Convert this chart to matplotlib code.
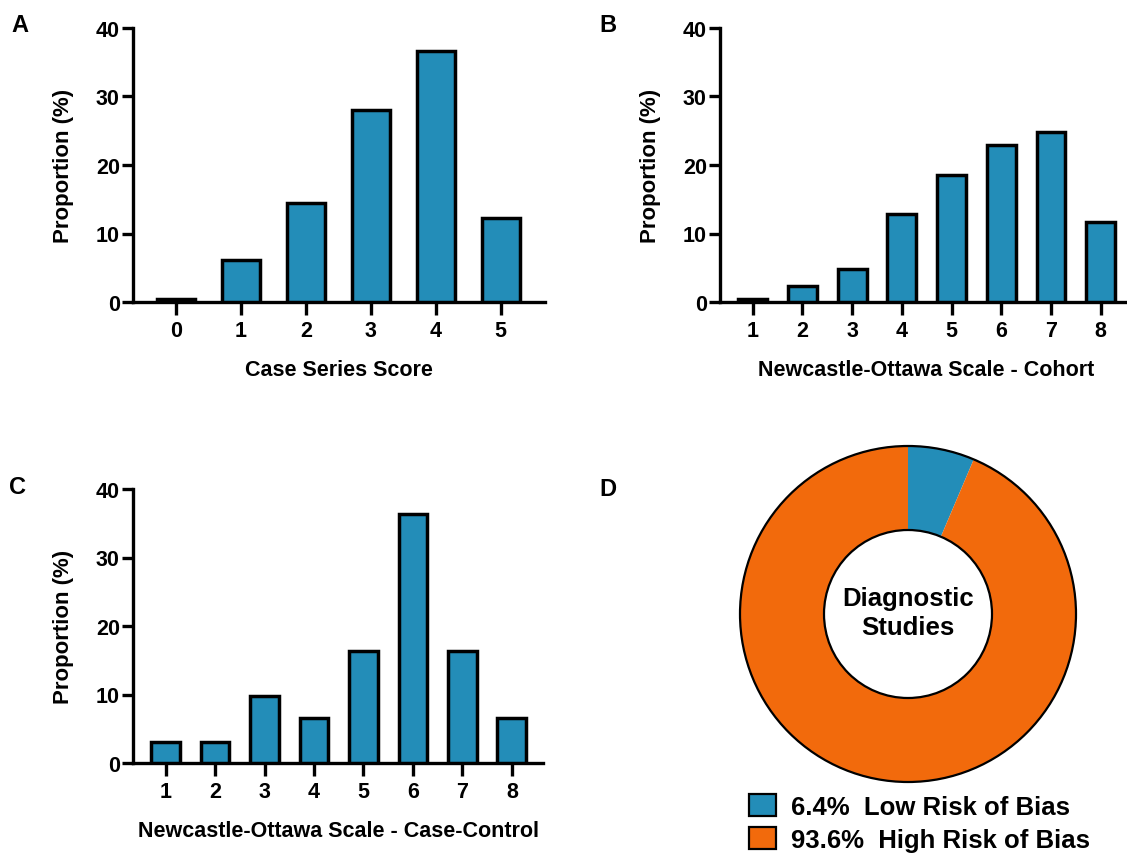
import numpy as np
import matplotlib
matplotlib.use('Agg')
import matplotlib.pyplot as plt
from matplotlib.patches import Patch, Circle

plt.rcParams['font.family'] = ['Liberation Sans', 'DejaVu Sans']
plt.rcParams['font.weight'] = 'bold'

# donnees
case_scores = [0, 1, 2, 3, 4, 5]
case_prop = [0.5, 6.2, 14.5, 28.1, 36.7, 12.3]

cohort_scores = [1, 2, 3, 4, 5, 6, 7, 8]
cohort_prop = [0.4, 2.3, 4.8, 12.9, 18.5, 22.9, 24.8, 11.7]

cc_scores = [1, 2, 3, 4, 5, 6, 7, 8]
cc_prop = [3.1, 3.1, 9.8, 6.5, 16.4, 36.4, 16.4, 6.5]

diag_labels = ['Low Risk of Bias', 'High Risk of Bias']
diag_prop = [6.4, 93.6]

blue = '#238DB8'
orange = '#F26A0C'

W, H = 1127, 854
fig = plt.figure(figsize=(W / 100, H / 100), dpi=100)


def px_axes(left, top, right, bottom):
    # rectangle en pixels -> fraction de figure
    return fig.add_axes([left / W, (H - bottom) / H, (right - left) / W, (bottom - top) / H])


def bar_panel(ax, x, y, xlim, xlabel):
    ax.bar(x, y, width=0.58, color=blue, edgecolor='black', linewidth=2.5, zorder=3)
    ax.set_xlim(*xlim)
    ax.set_ylim(0, 40)
    ax.set_yticks([0, 10, 20, 30, 40])
    ax.set_xticks(x)
    for s in ['top', 'right']:
        ax.spines[s].set_visible(False)
    for s in ['left', 'bottom']:
        ax.spines[s].set_linewidth(2.4)
    ax.tick_params(axis='y', length=8, width=2.4, pad=1.5, labelsize=15.5)
    ax.tick_params(axis='x', length=9, width=2.4, pad=4, labelsize=15.5)
    ax.set_ylabel('Proportion (%)', fontsize=16, fontweight='bold', labelpad=16)
    ax.set_xlabel(xlabel, fontsize=15.5, fontweight='bold', labelpad=13)


axA = px_axes(133, 29, 545, 303)
bar_panel(axA, case_scores, case_prop, (-0.66, 5.68), 'Case Series Score')

axB = px_axes(720, 29, 1132, 303)
bar_panel(axB, cohort_scores, cohort_prop, (0.34, 8.63), 'Newcastle-Ottawa Scale - Cohort')

axC = px_axes(133, 490, 543, 764)
bar_panel(axC, cc_scores, cc_prop, (0.34, 8.63), 'Newcastle-Ottawa Scale - Case-Control')

# D : anneau
axD = px_axes(738, 445, 1078, 785)
axD.pie(diag_prop, colors=[blue, orange], startangle=90, counterclock=False,
        radius=1, wedgeprops=dict(width=0.5, linewidth=0))
axD.add_patch(Circle((0, 0), 1, fill=False, lw=1.6, color='black'))
axD.add_patch(Circle((0, 0), 0.5, fill=False, lw=1.6, color='black'))
axD.set_xlim(-170 / 168, 170 / 168)
axD.set_ylim(-170 / 168, 170 / 168)
axD.set_aspect('equal')
axD.axis('off')
axD.text(0, 0.01, 'Diagnostic\nStudies', ha='center', va='center', fontsize=18.5,
         fontweight='bold', linespacing=1.25)

handles = [Patch(facecolor=c, edgecolor='black', linewidth=1.6) for c in [blue, orange]]
labels = ['%.1f%%  %s' % (p, l) for p, l in zip(diag_prop, diag_labels)]
fig.legend(handles, labels, loc='upper left', bbox_to_anchor=(741 / W, (H - 787) / H),
           frameon=False, handlelength=1.05, handleheight=0.95,
           handletextpad=0.6, labelspacing=0.32, borderaxespad=0, borderpad=0.3,
           prop={'weight': 'bold', 'size': 18.5})

# lettres des panneaux
for lab, (x, y) in zip('ABCD', [(20, 25), (608, 25), (18, 488), (608, 490)]):
    fig.text(x / W, 1 - y / H, lab, fontsize=17, fontweight='bold', ha='center', va='center')

fig.savefig('out.png', dpi=100)
